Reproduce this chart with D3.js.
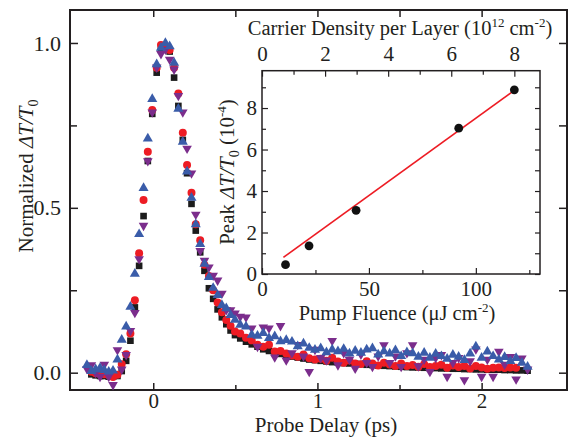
<!DOCTYPE html>
<html>
<head>
<meta charset="utf-8">
<script src="https://cdn.jsdelivr.net/npm/d3@7"></script>
<style>
  body { margin: 0; background: #fff; }
  svg text { font-family: "Liberation Serif", "Times New Roman", serif; fill: #231f20; font-size: 22px; }
  svg .inset text { font-size: 21px; }
  svg .xlab text { font-size: 21px; }
</style>
</head>
<body>
<svg id="chart" width="568" height="437"></svg>
<script>
// probe delay (ps), shared by the four traces
const delay = [-0.404, -0.377, -0.351, -0.324, -0.298, -0.271, -0.245, -0.218, -0.192, -0.165,
  -0.139, -0.112, -0.086, -0.059, -0.033, -0.006, 0.021, 0.047, 0.074, 0.100,
  0.127, 0.153, 0.180, 0.206, 0.233, 0.259, 0.286, 0.312, 0.339, 0.365,
  0.392, 0.418, 0.445, 0.471, 0.498, 0.53, 0.565, 0.60, 0.635, 0.67,
  0.705, 0.74, 0.775, 0.81, 0.845, 0.88, 0.915, 0.95, 0.985, 1.02,
  1.055, 1.09, 1.125, 1.16, 1.195, 1.23, 1.265, 1.30, 1.335, 1.37,
  1.405, 1.44, 1.475, 1.51, 1.545, 1.58, 1.615, 1.65, 1.685, 1.72,
  1.755, 1.79, 1.825, 1.86, 1.895, 1.93, 1.965, 2.00, 2.035, 2.07,
  2.105, 2.14, 2.175, 2.21, 2.245, 2.28];

// normalized dT/T0 for each trace (null = no point)
const blackSquares = [null, -0.005, -0.008, -0.010, -0.010, -0.012, -0.012, -0.010, 0.005, 0.036,
  0.097, 0.198, 0.324, 0.475, 0.642, 0.785, 0.910, 0.979, 0.990, 0.974,
  0.895, 0.809, 0.706, 0.605, 0.512, 0.431, 0.365, 0.309, 0.256, 0.224,
  0.192, 0.168, 0.147, 0.128, 0.114, 0.104, 0.094, 0.086, 0.079, 0.071,
  0.066, 0.061, 0.057, 0.053, 0.049, 0.046, 0.043, 0.040, 0.038, 0.036,
  0.034, 0.032, 0.031, 0.029, 0.028, 0.027, 0.026, 0.024, 0.023, 0.022,
  0.021, 0.020, 0.019, 0.018, 0.017, 0.016, 0.016, 0.015, 0.014, 0.014,
  0.013, 0.013, 0.012, 0.012, 0.011, 0.011, 0.010, 0.010, 0.009, 0.009,
  0.009, 0.008, 0.008, 0.007, 0.007, 0.006];

const redCircles = [null, 0.003, -0.002, -0.004, -0.005, -0.008, -0.013, -0.006, 0.026, 0.056,
  0.119, 0.220, 0.362, 0.524, 0.670, 0.797, 0.925, 0.994, 0.990, 0.979,
  0.925, 0.847, 0.728, 0.630, 0.546, 0.450, 0.402, 0.327, 0.293, 0.250,
  0.213, 0.183, 0.160, 0.142, 0.125, 0.119, 0.106, 0.098, 0.085, 0.079,
  0.085, 0.064, 0.066, 0.058, 0.052, 0.048, 0.055, 0.044, 0.040, 0.042,
  0.036, 0.045, 0.034, 0.030, 0.037, 0.028, 0.026, 0.035, 0.028, 0.022,
  0.030, 0.025, 0.020, 0.028, 0.020, 0.023, 0.018, 0.026, 0.017, 0.020,
  0.024, 0.015, 0.022, 0.017, 0.020, 0.013, 0.020, 0.016, 0.012, 0.015,
  0.016, 0.014, 0.016, 0.015, null, null];

const blueUp = [0.023, 0.005, 0.010, 0.014, 0.008, 0.003, 0.006, 0.040, 0.100, 0.140,
  0.200, 0.300, 0.420, 0.560, 0.710, 0.830, 0.935, 0.985, 1.000, 0.990,
  0.940, 0.800, 0.700, 0.610, 0.530, 0.450, 0.390, 0.330, 0.290, 0.257,
  0.235, 0.205, 0.195, 0.175, 0.160, 0.145, 0.140, 0.115, 0.112, 0.120,
  0.105, 0.110, 0.095, 0.099, 0.094, 0.080, 0.088, 0.075, 0.069, 0.074,
  0.062, 0.070, 0.065, 0.072, 0.058, 0.066, 0.060, 0.070, 0.074, 0.055,
  0.065, 0.058, 0.068, 0.050, 0.062, 0.059, 0.048, 0.060, 0.045, 0.057,
  0.050, 0.042, 0.054, 0.048, 0.038, 0.058, 0.079, 0.045, 0.064, 0.050,
  0.040, 0.047, 0.035, 0.044, 0.030, 0.018];

const purpleDown = [0.012, 0.023, 0.000, -0.012, 0.025, -0.012, -0.037, 0.069, 0.010, 0.054,
  0.127, 0.182, 0.345, 0.446, 0.642, 0.790, 0.926, 0.967, 0.980, 0.950,
  0.920, 0.840, 0.790, 0.680, 0.605, 0.480, 0.370, 0.340, 0.320, 0.295,
  0.280, 0.240, 0.190, 0.190, 0.180, 0.170, 0.168, 0.135, 0.079, 0.138,
  0.135, 0.047, 0.142, 0.038, 0.060, 0.085, 0.050, 0.003, 0.070, 0.045,
  0.038, 0.097, 0.023, 0.060, 0.040, 0.013, 0.055, 0.030, 0.018, 0.050,
  0.084, 0.030, 0.050, 0.018, 0.060, 0.084, 0.020, 0.040, 0.003, 0.045,
  0.054, -0.012, 0.030, 0.045, -0.022, 0.035, 0.071, -0.012, 0.040, -0.012,
  0.064, 0.025, 0.048, -0.020, 0.044, 0.010];

// inset: peak dT/T0 (1e-4) vs pump fluence (uJ/cm2)
const fluence = [11, 22, 44, 92, 118];
const peakSignal = [0.45, 1.36, 3.07, 7.03, 8.88];
const fitFluence = [10, 118];
const fitPeak = [0.80, 8.85];
const densityPerFluence = 8 / 118;   // 1e12 cm-2 per uJ/cm2

const xMajor = [0, 1, 2], xMinor = [0.5, 1.5];
const yMajor = [0, 0.5, 1.0], yMinor = [0.25, 0.75];
const fMajor = [0, 50, 100], fMinor = [25, 75, 125];
const pMajor = [0, 2, 4, 6, 8], pMinor = [1, 3, 5, 7, 9];
const dMajor = [0, 2, 4, 6, 8], dMinor = [1, 3, 5, 7];

const ink = "#231f20";
const svg = d3.select("#chart");

// ---- main panel
const x = d3.scaleLinear().domain([-0.507, 2.52]).range([70, 567]);
const y = d3.scaleLinear().domain([-0.0525, 1.1]).range([390, 10]);

function clean(g) {
  g.attr("font-family", null).attr("font-size", null).attr("color", ink);
  g.select(".domain").remove();
  g.selectAll("line").attr("stroke-width", 1.5);
}

svg.append("g").attr("class", "xlab").attr("transform", "translate(0,390)")
  .call(d3.axisBottom(x).tickValues(xMajor).tickSizeInner(-7).tickSizeOuter(0).tickPadding(3).tickFormat(d3.format("d")))
  .call(clean);
svg.append("g").attr("transform", "translate(0,390)")
  .call(d3.axisBottom(x).tickValues(xMinor).tickSizeInner(-5).tickSizeOuter(0).tickFormat(""))
  .call(clean);
svg.append("g").attr("transform", "translate(0,10)")
  .call(d3.axisTop(x).tickValues(xMajor.concat(xMinor)).tickSizeInner(-7).tickSizeOuter(0).tickFormat(""))
  .call(clean);
svg.append("g").attr("transform", "translate(70,0)")
  .call(d3.axisLeft(y).tickValues(yMajor).tickSizeInner(-8).tickSizeOuter(0).tickPadding(9).tickFormat(d3.format(".1f")))
  .call(clean);
svg.append("g").attr("transform", "translate(70,0)")
  .call(d3.axisLeft(y).tickValues(yMinor).tickSizeInner(-7).tickSizeOuter(0).tickFormat(""))
  .call(clean);
svg.append("g").attr("transform", "translate(567,0)")
  .call(d3.axisRight(y).tickValues(yMajor.concat(yMinor)).tickSizeInner(-8).tickSizeOuter(0).tickFormat(""))
  .call(clean);

svg.append("rect").attr("x", 70).attr("y", 10).attr("width", 497).attr("height", 380)
  .attr("fill", "none").attr("stroke", ink).attr("stroke-width", 2);

const traces = [
  { values: blackSquares, color: "#1c1c1c", type: d3.symbolSquare, size: 44, rot: 0 },
  { values: redCircles, color: "#ed1c24", type: d3.symbolCircle, size: 50, rot: 0 },
  { values: purpleDown, color: "#7b2d8c", type: d3.symbolTriangle, size: 40, rot: 180 },
  { values: blueUp, color: "#3a5ca9", type: d3.symbolTriangle, size: 44, rot: 0 }
];

traces.forEach(s => {
  const pts = delay.map((t, i) => ({ t: t, v: s.values[i] })).filter(d => d.v !== null);
  svg.append("g").selectAll("path")
    .data(pts)
    .enter()
    .append("path")
    .attr("d", d3.symbol().type(s.type).size(s.size))
    .attr("fill", s.color)
    .attr("transform", d => `translate(${x(d.t)},${y(d.v)}) rotate(${s.rot})`);
});

// text with italic / sub / superscript pieces
function rich(sel, parts) {
  parts.forEach(p => {
    const ts = sel.append("tspan").text(p.t);
    if (p.it) ts.attr("font-style", "italic");
    if (p.sup) ts.attr("dy", -8).style("font-size", "13px");
    if (p.sub) ts.attr("dy", 5).style("font-size", "14px");
    if (p.back) ts.attr("dy", p.back);
  });
  return sel;
}

svg.append("text").attr("x", 326).attr("y", 432).attr("text-anchor", "middle").style("font-size", "21px").text("Probe Delay (ps)");
rich(svg.append("text").attr("text-anchor", "middle").attr("transform", "translate(33,176) rotate(-90)").style("font-size", "21px"),
  [{ t: "Normalized " }, { t: "\u0394T/T", it: true }, { t: "0", sub: true }]);

// ---- inset
const inset = svg.append("g").attr("class", "inset");
const fx = d3.scaleLinear().domain([0, 130]).range([262, 540]);
const py = d3.scaleLinear().domain([0, 9.8]).range([274, 70.7]);
const dx = d3.scaleLinear().domain([0, 130 * densityPerFluence]).range([262, 540]);

inset.append("rect").attr("x", 262).attr("y", 70.7).attr("width", 278).attr("height", 203.3).attr("fill", "#fff");

function cleanInset(g) {
  clean(g);
  g.selectAll("line").attr("stroke-width", 1.2);
}

inset.append("g").attr("transform", "translate(0,274)")
  .call(d3.axisBottom(fx).tickValues(fMajor).tickSizeInner(-6).tickSizeOuter(0).tickPadding(7).tickFormat(d3.format("d")))
  .call(cleanInset);
inset.append("g").attr("transform", "translate(0,274)")
  .call(d3.axisBottom(fx).tickValues(fMinor).tickSizeInner(-4).tickSizeOuter(0).tickFormat(""))
  .call(cleanInset);
inset.append("g").attr("transform", "translate(0,70.7)")
  .call(d3.axisTop(dx).tickValues(dMajor).tickSizeInner(-6).tickSizeOuter(0).tickPadding(10).tickFormat(d3.format("d")))
  .call(cleanInset);
inset.append("g").attr("transform", "translate(0,70.7)")
  .call(d3.axisTop(dx).tickValues(dMinor).tickSizeInner(-4).tickSizeOuter(0).tickFormat(""))
  .call(cleanInset);
inset.append("g").attr("transform", "translate(262,0)")
  .call(d3.axisLeft(py).tickValues(pMajor).tickSizeInner(-6).tickSizeOuter(0).tickPadding(5).tickFormat(d3.format("d")))
  .call(cleanInset);
inset.append("g").attr("transform", "translate(262,0)")
  .call(d3.axisLeft(py).tickValues(pMinor).tickSizeInner(-4).tickSizeOuter(0).tickFormat(""))
  .call(cleanInset);
inset.append("g").attr("transform", "translate(540,0)")
  .call(d3.axisRight(py).tickValues(pMajor.concat(pMinor)).tickSizeInner(-5).tickSizeOuter(0).tickFormat(""))
  .call(cleanInset);

inset.append("rect").attr("x", 262).attr("y", 70.7).attr("width", 278).attr("height", 203.3)
  .attr("fill", "none").attr("stroke", ink).attr("stroke-width", 1.5);

inset.append("path")
  .datum(fitFluence.map((f, i) => [f, fitPeak[i]]))
  .attr("d", d3.line().x(d => fx(d[0])).y(d => py(d[1])))
  .attr("fill", "none").attr("stroke", "#ed1c24").attr("stroke-width", 1.6);

inset.append("g").selectAll("circle")
  .data(fluence.map((f, i) => ({ f: f, p: peakSignal[i] })))
  .enter()
  .append("circle")
  .attr("cx", d => fx(d.f))
  .attr("cy", d => py(d.p))
  .attr("r", 4.4)
  .attr("fill", "#111");

rich(inset.append("text").attr("x", 400).attr("y", 35).attr("text-anchor", "middle").style("font-size", "20.5px"),
  [{ t: "Carrier Density per Layer (10" }, { t: "12", sup: true }, { t: " cm", back: 8 }, { t: "-2", sup: true }, { t: ")", back: 8 }]);
rich(inset.append("text").attr("x", 397).attr("y", 320).attr("text-anchor", "middle").style("font-size", "20.5px"),
  [{ t: "Pump Fluence (\u03bcJ cm" }, { t: "-2", sup: true }, { t: ")", back: 8 }]);
rich(inset.append("text").attr("text-anchor", "middle").attr("transform", "translate(234,172) rotate(-90)"),
  [{ t: "Peak " }, { t: "\u0394T/T", it: true }, { t: "0", sub: true }, { t: " (10", back: -5 }, { t: "-4", sup: true }, { t: ")", back: 8 }]);
</script>
</body>
</html>
